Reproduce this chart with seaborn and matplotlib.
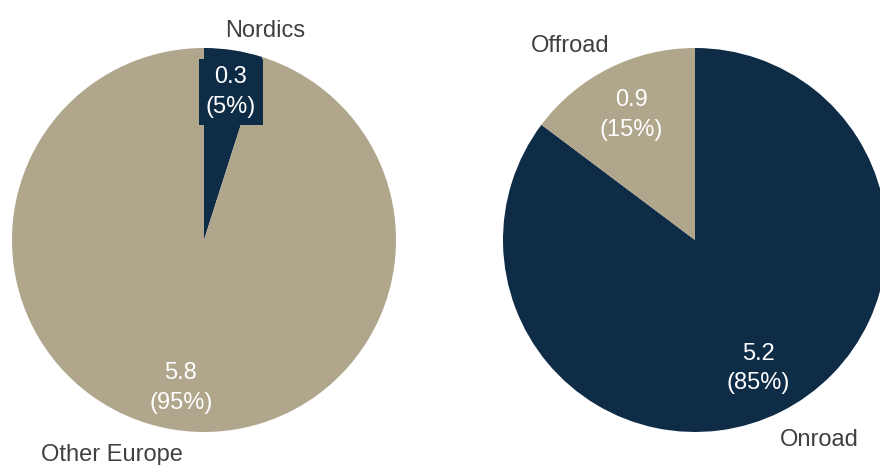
import matplotlib
matplotlib.use("Agg")
import matplotlib.pyplot as plt
import seaborn as sns

# Data
region_labels = ["Nordics", "Other Europe"]
region_values = [0.3, 5.8]
region_pcts = [5, 95]

segment_labels = ["Onroad", "Offroad"]
segment_values = [5.2, 0.9]
segment_pcts = [85, 15]

NAVY = "#0F2C47"
TAN = "#AFA68C"
LABEL_GRAY = "#404040"

sns.set_theme(style="white")
plt.rcParams["font.family"] = ["Liberation Sans", "DejaVu Sans"]

fig = plt.figure(figsize=(8.8, 4.65), dpi=100)
W, H = 880, 465
R = 192


def make_ax(cx, cy):
    ax = fig.add_axes([(cx - R) / W, (H - cy - R) / H, 2 * R / W, 2 * R / H])
    ax.set_xlim(-1, 1)
    ax.set_ylim(-1, 1)
    ax.set_axis_off()
    return ax


FS = 17
LS = 1.45
WP = dict(linewidth=0, edgecolor="none")

# Left pie
ax1 = make_ax(204, 240)
ax1.pie(region_values, colors=[NAVY, TAN], startangle=90,
        counterclock=False, radius=1, center=(0, 0), frame=False,
        wedgeprops=WP)
ax1.set_xlim(-1, 1)
ax1.set_ylim(-1, 1)
ax1.set_aspect("equal")
ax1.text(0.14, 0.77, f"{region_values[0]}\n({region_pcts[0]}%)", color="white",
         fontsize=FS, ha="center", va="center", linespacing=LS,
         bbox=dict(boxstyle="square,pad=0.3", facecolor=NAVY, edgecolor="none"))
ax1.text(-0.12, -0.77, f"{region_values[1]}\n({region_pcts[1]}%)", color="white",
         fontsize=FS, ha="center", va="center", linespacing=LS)
ax1.text(0.32, 1.09, region_labels[0], color=LABEL_GRAY, fontsize=FS,
         ha="center", va="center", clip_on=False)
ax1.text(-0.48, -1.12, region_labels[1], color=LABEL_GRAY, fontsize=FS,
         ha="center", va="center", clip_on=False)

# Right pie
ax2 = make_ax(695, 240)
ax2.pie(segment_values, colors=[NAVY, TAN], startangle=90,
        counterclock=False, radius=1, center=(0, 0), frame=False,
        wedgeprops=WP)
ax2.set_xlim(-1, 1)
ax2.set_ylim(-1, 1)
ax2.set_aspect("equal")
ax2.text(0.33, -0.67, f"{segment_values[0]}\n({segment_pcts[0]}%)", color="white",
         fontsize=FS, ha="center", va="center", linespacing=LS)
ax2.text(-0.33, 0.65, f"{segment_values[1]}\n({segment_pcts[1]}%)", color="white",
         fontsize=FS, ha="center", va="center", linespacing=LS)
ax2.text(-0.65, 1.01, segment_labels[1], color=LABEL_GRAY, fontsize=FS,
         ha="center", va="center", clip_on=False)
ax2.text(0.65, -1.04, segment_labels[0], color=LABEL_GRAY, fontsize=FS,
         ha="center", va="center", clip_on=False)

fig.savefig("out.png", dpi=100, facecolor="white")
